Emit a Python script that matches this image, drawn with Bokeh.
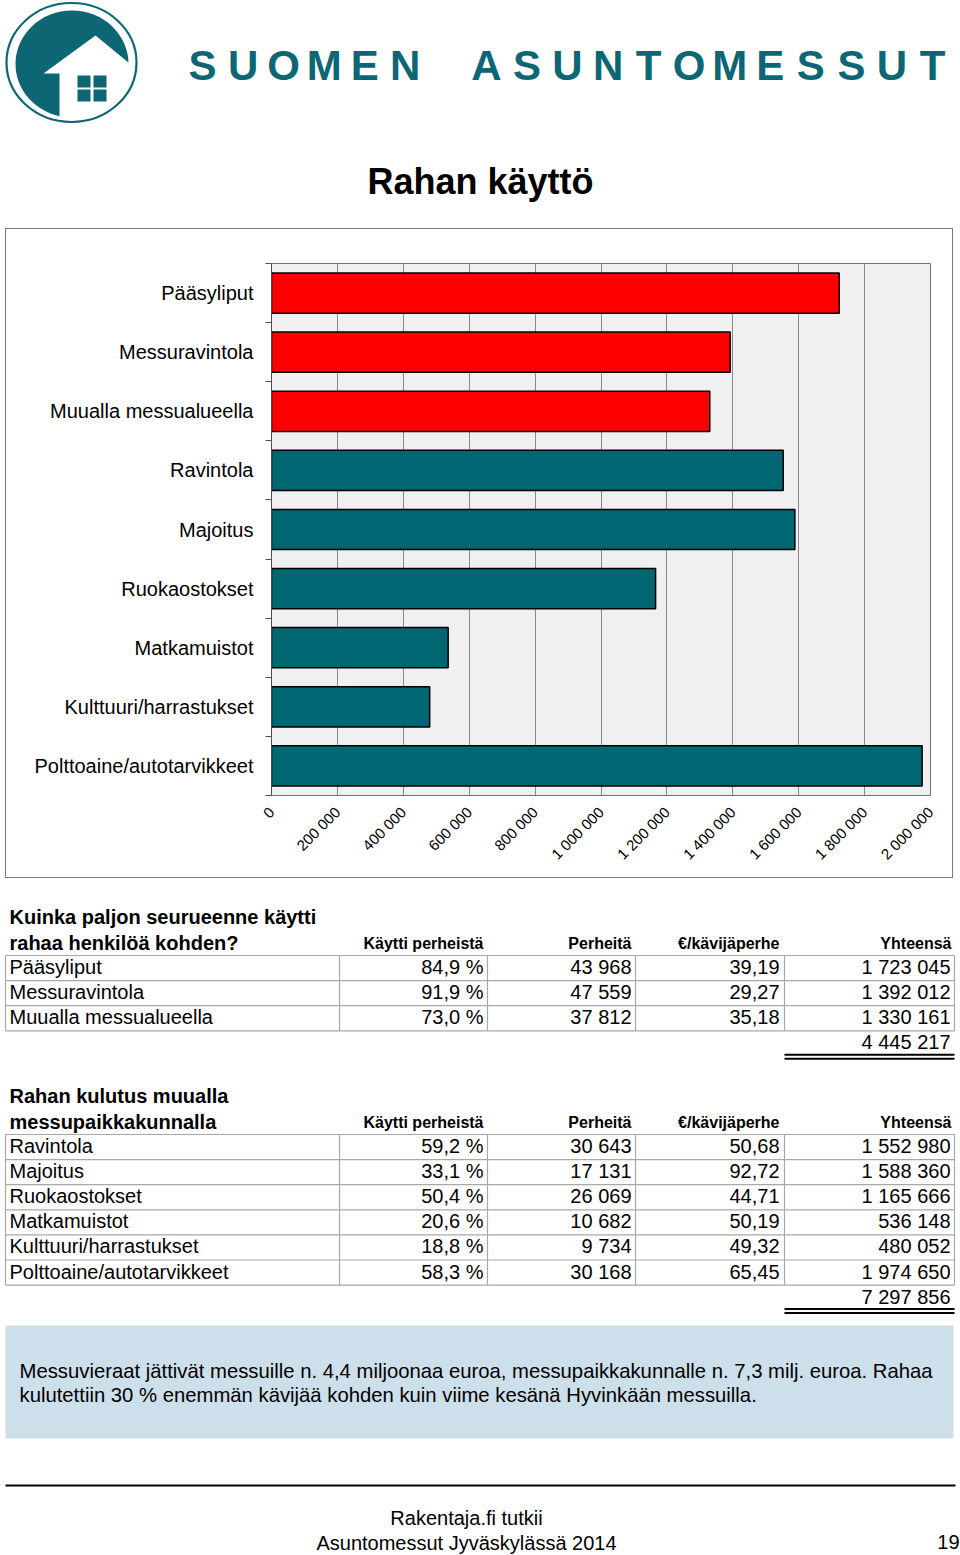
import math
from bokeh.plotting import figure
from bokeh.models import Range1d, FixedTicker, ColumnDataSource
from bokeh.layouts import column
from bokeh.embed import file_html
from bokeh.resources import INLINE
from bokeh.core.properties import value

FONT = "Liberation Sans"
TEAL = "#0d6674"
BAR_TEAL = "#006672"
RED = "#ff0000"

# ---------------- data ----------------
brand = "SUOMEN ASUNTOMESSUT"
title = "Rahan käyttö"

categories = ["Pääsyliput", "Messuravintola", "Muualla messualueella",
              "Ravintola", "Majoitus", "Ruokaostokset", "Matkamuistot",
              "Kulttuuri/harrastukset", "Polttoaine/autotarvikkeet"]
totals = [1723045, 1392012, 1330161, 1552980, 1588360, 1165666, 536148, 480052, 1974650]
groups = ["messu", "messu", "messu", "muualla", "muualla", "muualla", "muualla", "muualla", "muualla"]

x_ticks = [0, 200000, 400000, 600000, 800000, 1000000, 1200000, 1400000, 1600000, 1800000, 2000000]
x_tick_labels = ["0", "200 000", "400 000", "600 000", "800 000", "1 000 000",
                 "1 200 000", "1 400 000", "1 600 000", "1 800 000", "2 000 000"]

col_headers = ["Käytti perheistä", "Perheitä", "€/kävijäperhe", "Yhteensä"]

t1_heading = ["Kuinka paljon seurueenne käytti", "rahaa henkilöä kohden?"]
t1_items = ["Pääsyliput", "Messuravintola", "Muualla messualueella"]
t1_share = ["84,9 %", "91,9 %", "73,0 %"]
t1_families = ["43 968", "47 559", "37 812"]
t1_per_family = ["39,19", "29,27", "35,18"]
t1_totals = [1723045, 1392012, 1330161]
t1_sum = 4445217

t2_heading = ["Rahan kulutus muualla", "messupaikkakunnalla"]
t2_items = ["Ravintola", "Majoitus", "Ruokaostokset", "Matkamuistot",
            "Kulttuuri/harrastukset", "Polttoaine/autotarvikkeet"]
t2_share = ["59,2 %", "33,1 %", "50,4 %", "20,6 %", "18,8 %", "58,3 %"]
t2_families = ["30 643", "17 131", "26 069", "10 682", "9 734", "30 168"]
t2_per_family = ["50,68", "92,72", "44,71", "50,19", "49,32", "65,45"]
t2_totals = [1552980, 1588360, 1165666, 536148, 480052, 1974650]
t2_sum = 7297856

info_lines = ["Messuvieraat jättivät messuille n. 4,4 miljoonaa euroa, messupaikkakunnalle n. 7,3 milj. euroa. Rahaa",
              "kulutettiin 30 % enemmän kävijää kohden kuin viime kesänä Hyvinkään messuilla."]
footer_lines = ["Rakentaja.fi tutkii", "Asuntomessut Jyväskylässä 2014"]
page_number = "19"


def fmt(v):
    return f"{v:,}".replace(",", " ")


W = 960

# ---------------- header ----------------
head = figure(width=W, height=228, x_range=Range1d(0, 960), y_range=Range1d(228, 0),
              x_axis_type=None, y_axis_type=None, output_backend="svg",
              toolbar_location=None, min_border=0, outline_line_color=None,
              border_fill_color="white", background_fill_color="white",
              frame_align=False)
head.grid.visible = False

# logo
head.ellipse(x=71.5, y=63.5, width=113, height=107, fill_color=TEAL, line_color=None)
head.patch(x=[95, 43, 59, 59, 148, 148], y=[35, 73, 73, 135, 135, 78.4],
           fill_color="white", line_color=None)
head.ellipse(x=71, y=62, width=130, height=119, fill_color=None, line_color=TEAL, line_width=2.2)
head.quad(left=[77, 93, 77, 93], right=[90, 106, 90, 106],
          top=[75, 75, 89, 89], bottom=[87, 87, 101, 101],
          fill_color=TEAL, line_color=None)

# brand letters
step = (932 - 202) / (len(brand) - 1)
bx, bt = [], []
for i, ch in enumerate(brand):
    if ch != " ":
        bx.append(202 + i * step)
        bt.append(ch)
head.text(x=bx, y=[65] * len(bx), text=bt, text_font=value(FONT), text_font_style="bold",
          text_font_size="42px", text_color=TEAL, text_align="center",
          text_baseline="middle")

head.text(x=[480], y=[181], text=[title], text_font=value(FONT), text_font_style="bold",
          text_font_size="36px", text_color="black", text_align="center",
          text_baseline="middle")

# ---------------- bar chart ----------------
n_cat = len(categories)
y_pos = [n_cat - 0.5 - i for i in range(n_cat)]       # first category at the top
colors = [RED if g == "messu" else BAR_TEAL for g in groups]
src = ColumnDataSource(dict(y=y_pos, cat=categories, val=totals, color=colors))

chart = figure(width=948, height=650, y_range=Range1d(0, n_cat),
               x_range=Range1d(0, 2000000), output_backend="svg", toolbar_location=None,
               min_border_left=266, min_border_right=23, min_border_top=35,
               min_border_bottom=83, background_fill_color="#f0f0f0",
               border_fill_color=None, outline_line_color="#707070",
               margin=(0, 7, 0, 5), frame_align=False,
               styles={"box-shadow": "inset 0 0 0 1px #7a7a7a"})
chart.hbar(y="y", right="val", left=0, height=0.68, fill_color="color",
           line_color="black", line_width=1.5, source=src)

chart.xaxis.ticker = FixedTicker(ticks=x_ticks)
chart.xaxis.major_label_overrides = {t: l for t, l in zip(x_ticks, x_tick_labels)}
chart.xaxis.major_label_orientation = math.pi / 4
chart.xaxis.major_label_text_font = FONT
chart.xaxis.major_label_text_font_size = "15px"
chart.xaxis.major_label_text_color = "black"
chart.xaxis.major_tick_line_color = None
chart.xaxis.minor_tick_line_color = None
chart.xaxis.axis_line_color = "#707070"
chart.xaxis.major_label_standoff = 8

yax = chart.yaxis[0]
yax.ticker = FixedTicker(ticks=y_pos, minor_ticks=list(range(n_cat + 1)))
yax.major_label_overrides = {p: c for p, c in zip(y_pos, categories)}
yax.major_label_text_font = FONT
yax.major_label_text_font_size = "20px"
yax.major_label_text_color = "black"
yax.major_tick_line_color = None
yax.minor_tick_in = 0
yax.minor_tick_out = 6
yax.minor_tick_line_color = "#505050"
yax.axis_line_color = "#505050"
yax.major_label_standoff = 12

chart.xgrid.grid_line_color = "#8a8a8a"
chart.ygrid.grid_line_color = None

# ---------------- tables & footer ----------------
tab = figure(width=W, height=677, x_range=Range1d(0, 960), y_range=Range1d(1555, 878),
             x_axis_type=None, y_axis_type=None, output_backend="svg",
             toolbar_location=None, min_border=0, outline_line_color=None,
             border_fill_color="white", background_fill_color="white",
             frame_align=False)
tab.grid.visible = False

ROW_H = 25.1
LEFT, RIGHT = 5, 954
col_div = [339, 487, 635, 784]
col_right = [483, 631, 779, 950]
GRID = "#a8a8a8"


def draw_table(top, heading, items, share, fam, perfam, tots, total_sum):
    n = len(items)
    tab.text(x=[9, 9], y=[top - 39, top - 13], text=heading, text_font=value(FONT),
             text_font_style="bold", text_font_size="20px", text_color="black",
             text_baseline="middle")
    tab.text(x=col_right[:3] + [951], y=[top - 12] * 4, text=col_headers,
             text_font=value(FONT), text_font_style="bold", text_font_size="16px",
             text_color="black", text_align="right", text_baseline="middle")
    ys = [top + i * ROW_H for i in range(n + 1)]
    tab.segment(x0=[LEFT] * len(ys), x1=[RIGHT] * len(ys), y0=ys, y1=ys,
                line_color=GRID, line_width=1.2)
    xs = [LEFT] + col_div + [RIGHT]
    tab.segment(x0=xs, x1=xs, y0=[top] * len(xs), y1=[ys[-1]] * len(xs),
                line_color=GRID, line_width=1.2)
    cy = [top + (i + 0.5) * ROW_H - 1 for i in range(n)]
    tab.text(x=[9] * n, y=cy, text=items, text_font=value(FONT), text_font_size="20px",
             text_color="black", text_baseline="middle")
    for cx, col in zip(col_right, [share, fam, perfam, [fmt(v) for v in tots]]):
        tab.text(x=[cx] * n, y=cy, text=col, text_font=value(FONT), text_font_size="20px",
                 text_color="black", text_align="right", text_baseline="middle")
    sy = ys[-1] + 0.5 * ROW_H - 1
    tab.text(x=[col_right[3]], y=[sy], text=[fmt(total_sum)], text_font=value(FONT),
             text_font_size="20px", text_color="black", text_align="right",
             text_baseline="middle")
    uy = ys[-1] + 24
    tab.segment(x0=[784, 784], x1=[RIGHT, RIGHT], y0=[uy, uy + 4], y1=[uy, uy + 4],
                line_color="black", line_width=2)


draw_table(955, t1_heading, t1_items, t1_share, t1_families, t1_per_family, t1_totals, t1_sum)
draw_table(1134, t2_heading, t2_items, t2_share, t2_families, t2_per_family, t2_totals, t2_sum)

# info box
tab.quad(left=[5], right=[953], top=[1325], bottom=[1438], fill_color="#cddfea", line_color=None)
tab.text(x=[19, 19], y=[1370, 1394], text=info_lines, text_font=value(FONT),
         text_font_size="20.3px", text_color="black", text_baseline="middle")

# footer
tab.segment(x0=[5], x1=[955], y0=[1485], y1=[1485], line_color="black", line_width=2)
tab.text(x=[466, 466], y=[1517, 1542], text=footer_lines, text_font=value(FONT),
         text_font_size="20px", text_color="black", text_align="center",
         text_baseline="middle")
tab.text(x=[959], y=[1541], text=[page_number], text_font=value(FONT),
         text_font_size="20px", text_color="black", text_align="right",
         text_baseline="middle")

layout = column(head, chart, tab, spacing=0)
open("out.html", "w").write(file_html(layout, INLINE))
